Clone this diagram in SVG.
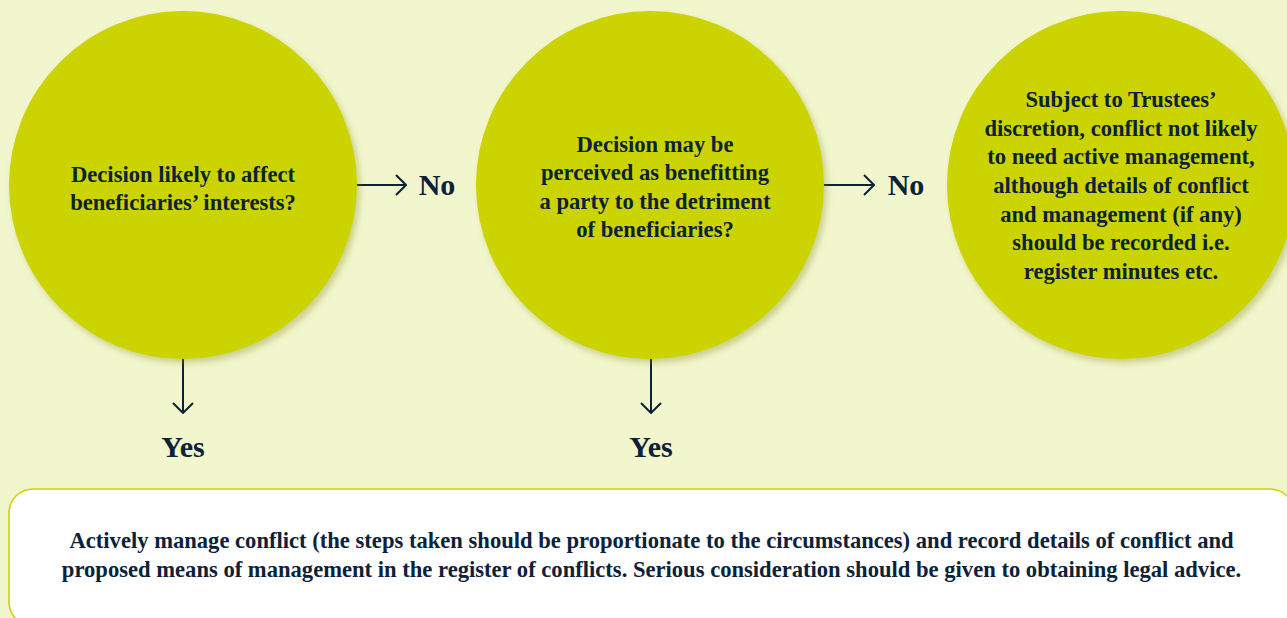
<svg xmlns="http://www.w3.org/2000/svg" width="1287" height="618" viewBox="0 0 1287 618">
<defs>
<style>
.bg{fill:#f2f6cd}
.node{fill:#cbd400;filter:url(#sh)}
.t{font-family:"Liberation Serif","Times New Roman",serif;font-weight:bold;fill:#0c2239;text-anchor:middle}
.body{font-size:22.6px}
.lbl{font-size:30px}
.conn{stroke:#0c2239;stroke-width:2;fill:none}
.box{fill:#ffffff;stroke:#cbd400;stroke-width:1.6}
</style>
<filter id="sh" x="-10%" y="-10%" width="125%" height="125%">
<feDropShadow dx="3" dy="4" stdDeviation="3" flood-color="#7d8420" flood-opacity="0.35"/>
</filter>
<marker id="ah" viewBox="0 0 12 22" refX="11" refY="11" markerWidth="12" markerHeight="22" markerUnits="userSpaceOnUse" orient="auto">
<path d="M1,1 L11,11 L1,21" fill="none" stroke="#0c2239" stroke-width="2"/>
</marker>
</defs>
<rect class="bg" x="0" y="0" width="1287" height="618"/>

<g id="connectors">
<line class="conn" x1="357" y1="185" x2="406" y2="185" marker-end="url(#ah)"/>
<line class="conn" x1="823" y1="185" x2="874" y2="185" marker-end="url(#ah)"/>
<line class="conn" x1="183" y1="359" x2="183" y2="413" marker-end="url(#ah)"/>
<line class="conn" x1="651" y1="359" x2="651" y2="413" marker-end="url(#ah)"/>
<text class="t lbl" x="437" y="195">No</text>
<text class="t lbl" x="906" y="195">No</text>
<text class="t lbl" x="183" y="457">Yes</text>
<text class="t lbl" x="651" y="457">Yes</text>
</g>

<g id="node-affect">
<circle class="node" cx="183" cy="185" r="174"/>
<text class="t body"><tspan x="183" y="182">Decision likely to affect</tspan><tspan x="183" y="210">beneficiaries’ interests?</tspan></text>
</g>

<g id="node-perceived">
<circle class="node" cx="650" cy="185" r="174"/>
<text class="t body"><tspan x="655" y="152">Decision may be</tspan><tspan x="655" y="180">perceived as benefitting</tspan><tspan x="655" y="209">a party to the detriment</tspan><tspan x="655" y="237">of beneficiaries?</tspan></text>
</g>

<g id="node-discretion">
<circle class="node" cx="1121" cy="185" r="174"/>
<text class="t body"><tspan x="1121" y="107">Subject to Trustees’</tspan><tspan x="1121" y="136">discretion, conflict not likely</tspan><tspan x="1121" y="164">to need active management,</tspan><tspan x="1121" y="193">although details of conflict</tspan><tspan x="1121" y="222">and management (if any)</tspan><tspan x="1121" y="250">should be recorded i.e.</tspan><tspan x="1121" y="279">register minutes etc.</tspan></text>
</g>

<g id="node-manage">
<rect class="box" x="9" y="489" width="1285" height="137" rx="24" ry="24"/>
<text class="t body"><tspan x="651.5" y="548">Actively manage conflict (the steps taken should be proportionate to the circumstances) and record details of conflict and</tspan><tspan x="651.5" y="577">proposed means of management in the register of conflicts. Serious consideration should be given to obtaining legal advice.</tspan></text>
</g>
</svg>
